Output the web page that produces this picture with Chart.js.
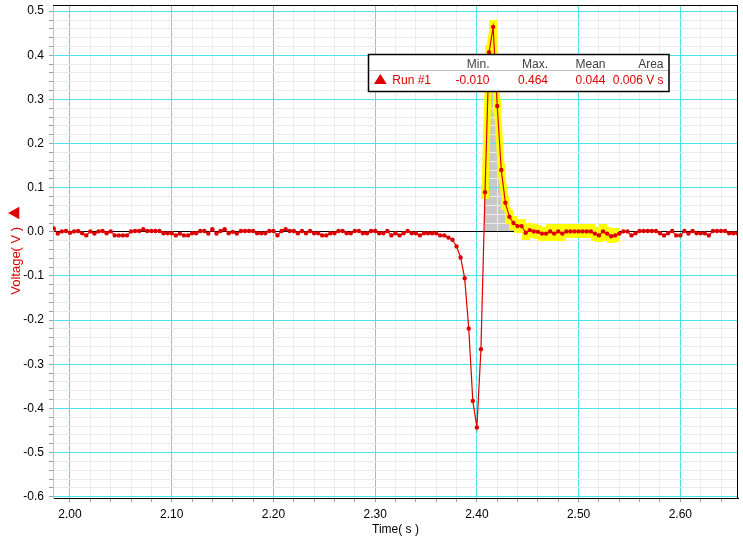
<!DOCTYPE html>
<html>
<head>
<meta charset="utf-8">
<script src="https://cdn.jsdelivr.net/npm/chart.js@4.4.1/dist/chart.umd.min.js"></script>
<style>
html, body { margin: 0; padding: 0; background: #fff; }
#wrap { width: 743px; height: 543px; position: relative; }
</style>
</head>
<body>
<div id="wrap"><canvas id="voltChart"></canvas></div>
<script>
// Run #1 samples (s, V)
const timeS = [
  1.984, 1.988, 1.992, 1.996, 2.000, 2.004, 2.008, 2.012, 2.016, 2.020,
  2.024, 2.028, 2.032, 2.036, 2.040, 2.044, 2.048, 2.052, 2.056, 2.060,
  2.064, 2.068, 2.072, 2.076, 2.080, 2.084, 2.088, 2.092, 2.096, 2.100,
  2.104, 2.108, 2.112, 2.116, 2.120, 2.124, 2.128, 2.132, 2.136, 2.140,
  2.144, 2.148, 2.152, 2.156, 2.160, 2.164, 2.168, 2.172, 2.176, 2.180,
  2.184, 2.188, 2.192, 2.196, 2.200, 2.204, 2.208, 2.212, 2.216, 2.220,
  2.224, 2.228, 2.232, 2.236, 2.240, 2.244, 2.248, 2.252, 2.256, 2.260,
  2.264, 2.268, 2.272, 2.276, 2.280, 2.284, 2.288, 2.292, 2.296, 2.300,
  2.304, 2.308, 2.312, 2.316, 2.320, 2.324, 2.328, 2.332, 2.336, 2.340,
  2.344, 2.348, 2.352, 2.356, 2.360, 2.364, 2.368, 2.372, 2.376, 2.380,
  2.384, 2.388, 2.392, 2.396, 2.400, 2.404, 2.408, 2.412, 2.416, 2.420,
  2.424, 2.428, 2.432, 2.436, 2.440, 2.444, 2.448, 2.452, 2.456, 2.460,
  2.464, 2.468, 2.472, 2.476, 2.480, 2.484, 2.488, 2.492, 2.496, 2.500,
  2.504, 2.508, 2.512, 2.516, 2.520, 2.524, 2.528, 2.532, 2.536, 2.540,
  2.544, 2.548, 2.552, 2.556, 2.560, 2.564, 2.568, 2.572, 2.576, 2.580,
  2.584, 2.588, 2.592, 2.596, 2.600, 2.604, 2.608, 2.612, 2.616, 2.620,
  2.624, 2.628, 2.632, 2.636, 2.640, 2.644, 2.648, 2.652, 2.656
];
const voltageV = [
  0.008, -0.004, 0.001, 0.002, -0.002, 0.001, 0.002, -0.003, -0.008, 0.001,
  -0.004, 0.001, 0.002, -0.003, 0.001, -0.008, -0.008, -0.008, -0.008, 0.001,
  0.002, 0.002, 0.006, 0.002, 0.002, 0.002, 0.002, -0.003, -0.003, -0.003,
  -0.008, -0.004, -0.008, -0.008, -0.003, -0.003, 0.002, 0.002, -0.004, 0.006,
  -0.004, 0.002, 0.006, -0.003, 0.000, -0.004, 0.002, 0.002, 0.002, 0.002,
  -0.003, -0.003, -0.003, 0.002, 0.002, -0.008, 0.002, 0.006, 0.002, 0.002,
  -0.003, 0.002, -0.003, 0.002, -0.003, -0.003, -0.008, -0.008, -0.003, -0.003,
  0.002, 0.002, -0.003, -0.003, 0.002, 0.002, -0.003, -0.003, 0.002, 0.002,
  -0.003, -0.003, 0.002, -0.008, -0.003, -0.008, -0.003, 0.002, -0.003, -0.003,
  -0.008, -0.003, -0.003, -0.003, -0.003, -0.008, -0.008, -0.013, -0.018, -0.033,
  -0.058, -0.105, -0.219, -0.383, -0.443, -0.266, 0.090, 0.407, 0.464, 0.285,
  0.140, 0.066, 0.034, 0.020, 0.013, 0.013, -0.002, 0.004, 0.001, 0.000,
  -0.004, -0.004, 0.001, -0.004, 0.001, -0.004, 0.001, 0.001, 0.001, 0.001,
  0.001, 0.001, 0.001, -0.004, -0.008, 0.001, -0.004, -0.010, -0.008, -0.004,
  0.001, 0.001, -0.008, -0.003, 0.002, 0.002, 0.002, 0.002, 0.002, -0.003,
  -0.008, -0.003, 0.002, -0.008, -0.008, 0.002, -0.004, 0.002, -0.003, -0.003,
  -0.003, -0.008, 0.002, 0.002, 0.002, 0.002, -0.003, -0.003, -0.003
];
// selected (highlighted) range and its statistics
const selRange = [2.408, 2.536];
const statHeaders = ['Min.', 'Max.', 'Mean', 'Area'];
const statValues = ['-0.010', '0.464', '0.044', '0.006 V s'];
const runName = 'Run #1';

const RED = '#dd0000';
const CYAN = '#4ce2ea';
const MINOR = '#ebebeb';

const points = timeS.map((t, i) => ({ x: t, y: voltageV[i] }));
const selected = points.filter(p => p.x >= selRange[0] - 1e-9 && p.x <= selRange[1] + 1e-9);

function isMajor(v) { return Math.abs(v * 10 - Math.round(v * 10)) < 1e-6; }

// the plot box is fixed, so drop label overhang padding
function noPad(s) {
  s.paddingTop = s.paddingBottom = s.paddingLeft = s.paddingRight = 0;
}

// yellow block drawn on each selected sample
const hilite = document.createElement('canvas');
hilite.width = 8; hilite.height = 14;
const hctx = hilite.getContext('2d');
hctx.fillStyle = '#ffff00';
hctx.fillRect(0, 0, 8, 14);

// grey area under the selected part, drawn before the grid
const areaShade = {
  id: 'areaShade',
  beforeDraw(chart) {
    const { ctx, scales: { x, y } } = chart;
    const y0 = y.getPixelForValue(0);
    ctx.save();
    ctx.beginPath();
    ctx.moveTo(x.getPixelForValue(selected[0].x), y0);
    selected.forEach(p => ctx.lineTo(x.getPixelForValue(p.x), y.getPixelForValue(p.y)));
    ctx.lineTo(x.getPixelForValue(selected[selected.length - 1].x), y0);
    ctx.closePath();
    ctx.fillStyle = '#c8c8c8';
    ctx.fill();
    ctx.restore();
  }
};

// plot frame, y title with run marker, stats box
const extras = {
  id: 'extras',
  afterDraw(chart) {
    const { ctx, chartArea: a } = chart;
    ctx.save();
    ctx.strokeStyle = '#000';
    ctx.lineWidth = 1;
    ctx.beginPath();
    ctx.moveTo(a.left, a.top + 0.5); ctx.lineTo(a.right, a.top + 0.5);
    ctx.moveTo(a.right - 0.5, a.top); ctx.lineTo(a.right - 0.5, a.bottom);
    ctx.stroke();

    // y axis title
    const cy = (a.top + a.bottom) / 2;
    ctx.save();
    ctx.translate(19.5, cy + 9.3);
    ctx.rotate(-Math.PI / 2);
    ctx.fillStyle = RED;
    ctx.font = '13px "Liberation Sans", Arial, sans-serif';
    ctx.textAlign = 'center';
    ctx.textBaseline = 'alphabetic';
    ctx.fillText('Voltage( V )', 0, 0);
    ctx.restore();
    ctx.fillStyle = RED;
    ctx.beginPath();
    ctx.moveTo(8, cy - 38.5);
    ctx.lineTo(19.3, cy - 44.8);
    ctx.lineTo(19.3, cy - 32.2);
    ctx.closePath();
    ctx.fill();

    // stats box
    const bx = 368.5, by = 54.5, bw = 300.5, bh = 37;
    ctx.fillStyle = '#fff';
    ctx.fillRect(bx, by, bw, bh);
    ctx.strokeStyle = '#c0c0c0';
    ctx.beginPath();
    ctx.moveTo(bx, by + 16); ctx.lineTo(bx + bw, by + 16);
    ctx.stroke();
    ctx.strokeStyle = '#000';
    ctx.lineWidth = 1.5;
    ctx.strokeRect(bx, by, bw, bh);

    const colRight = [489.5, 548, 605.5, 663.5];
    ctx.font = '12px "Liberation Sans", Arial, sans-serif';
    ctx.textAlign = 'right';
    ctx.textBaseline = 'alphabetic';
    ctx.fillStyle = '#404040';
    statHeaders.forEach((h, i) => ctx.fillText(h, colRight[i], 67.5));
    ctx.fillStyle = RED;
    statValues.forEach((v, i) => ctx.fillText(v, colRight[i], 84.3));
    ctx.textAlign = 'left';
    ctx.fillText(runName, 392.3, 84.3);
    ctx.beginPath();
    ctx.moveTo(374, 84); ctx.lineTo(386.7, 84); ctx.lineTo(380.3, 74);
    ctx.closePath();
    ctx.fill();
    ctx.restore();
  }
};

Chart.defaults.font.family = '"Liberation Sans", Arial, sans-serif';
Chart.defaults.font.size = 12;
Chart.defaults.color = '#000';

new Chart(document.getElementById('voltChart'), {
  type: 'line',
  data: {
    datasets: [
      {
        label: runName,
        data: points,
        borderColor: RED,
        borderWidth: 1.2,
        pointRadius: 2.2,
        pointBackgroundColor: RED,
        pointBorderWidth: 0,
        tension: 0,
        order: 0
      },
      {
        label: 'selection',
        data: selected,
        borderColor: '#ffff00',
        borderWidth: 7,
        borderJoinStyle: 'bevel',
        pointStyle: hilite,
        pointRadius: 4,
        tension: 0,
        order: 1
      }
    ]
  },
  options: {
    responsive: true,
    maintainAspectRatio: false,
    animation: false,
    events: [],
    layout: { autoPadding: false, padding: { top: 5, right: 5, left: 0, bottom: 0 } },
    plugins: { legend: { display: false }, tooltip: { enabled: false } },
    scales: {
      x: {
        type: 'linear',
        min: 1.9833,
        max: 2.6567,
        afterFit(s) { s.height = 45; noPad(s); },
        ticks: {
          stepSize: 0.02,
          includeBounds: false,
          autoSkip: false,
          maxRotation: 0,
          padding: 5,
          callback: v => isMajor(v) ? v.toFixed(2) : ''
        },
        grid: {
          color: c => isMajor(c.tick.value) ? CYAN : MINOR,
          tickColor: '#a0a0a0',
          tickLength: 4
        },
        border: { color: '#000', width: 1 },
        title: { display: true, text: 'Time( s )', padding: { top: 0, bottom: 6 } }
      },
      y: {
        min: -0.603,
        max: 0.514,
        afterFit(s) { s.width = 53; noPad(s); },
        ticks: {
          stepSize: 0.02,
          includeBounds: false,
          autoSkip: false,
          padding: 5,
          callback: v => isMajor(v) ? (Math.abs(v) < 1e-9 ? 0 : v).toFixed(1) : ''
        },
        grid: {
          color: c => Math.abs(c.tick.value) < 1e-9 ? '#000' : (isMajor(c.tick.value) ? CYAN : MINOR),
          tickColor: '#a0a0a0',
          tickLength: 4
        },
        border: { color: '#c0c0c0', width: 1 }
      }
    }
  },
  plugins: [areaShade, extras]
});
</script>
</body>
</html>
